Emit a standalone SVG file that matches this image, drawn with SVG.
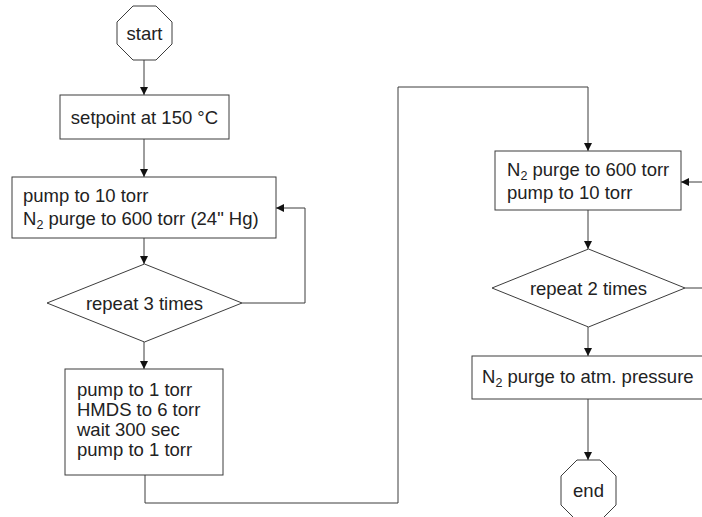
<svg xmlns="http://www.w3.org/2000/svg" width="702" height="517" viewBox="0 0 702 517">
<style>
.n{fill:#fff;stroke:#3c3c3c;stroke-width:1}
.c{fill:none;stroke:#3c3c3c;stroke-width:1}
text{font-family:"Liberation Sans",Arial,sans-serif;font-size:18.5px;fill:#222}
.m{text-anchor:middle}
.s{font-size:12.5px}
</style>
<defs>
<marker id="a" viewBox="0 0 10 10" refX="10" refY="5" markerWidth="8" markerHeight="8" markerUnits="userSpaceOnUse" orient="auto">
<path d="M0,0L10,5L0,10z" fill="#111"/>
</marker>
</defs>
<g id="connectors">
<path class="c" d="M144,60V95" marker-end="url(#a)"/>
<path class="c" d="M144,139V177" marker-end="url(#a)"/>
<path class="c" d="M144,238V264" marker-end="url(#a)"/>
<path class="c" d="M242,303H305V208H276" marker-end="url(#a)"/>
<path class="c" d="M144,342V369" marker-end="url(#a)"/>
<path class="c" d="M145,475V503H398V87H588V151" marker-end="url(#a)"/>
<path class="c" d="M702,182H681" marker-end="url(#a)"/>
<path class="c" d="M588,210V249" marker-end="url(#a)"/>
<path class="c" d="M685,288H702"/>
<path class="c" d="M588,327V356" marker-end="url(#a)"/>
<path class="c" d="M588,399V460" marker-end="url(#a)"/>
</g>
<g id="start">
<polygon class="n" points="133,6 156,6 172,22 172,44 156,60 133,60 117,44 117,22"/>
<text class="m" x="144.5" y="40">start</text>
</g>
<g id="setpoint">
<rect class="n" x="60" y="95" width="169" height="44"/>
<text class="m" x="144.5" y="124">setpoint at 150 °C</text>
</g>
<g id="purge1">
<rect class="n" x="12" y="177" width="264" height="61"/>
<text x="23" y="202">pump to 10 torr</text>
<text x="23" y="225">N<tspan class="s" dy="3.5">2</tspan><tspan dy="-3.5"> purge to 600 torr (24" Hg)</tspan></text>
</g>
<g id="repeat3">
<polygon class="n" points="144.5,264 242,303 144.5,342 47,303"/>
<text class="m" x="144.5" y="310">repeat 3 times</text>
</g>
<g id="hmds">
<rect class="n" x="65" y="369" width="158" height="106"/>
<text x="77" y="396">pump to 1 torr</text>
<text x="77" y="416">HMDS to 6 torr</text>
<text x="77" y="436">wait 300 sec</text>
<text x="77" y="456">pump to 1 torr</text>
</g>
<g id="purge2">
<rect class="n" x="495" y="151" width="186" height="59"/>
<text x="507" y="176">N<tspan class="s" dy="3.5">2</tspan><tspan dy="-3.5"> purge to 600 torr</tspan></text>
<text x="507" y="199">pump to 10 torr</text>
</g>
<g id="repeat2">
<polygon class="n" points="588.5,249 685,288 588.5,327 492,288"/>
<text class="m" x="588.5" y="295">repeat 2 times</text>
</g>
<g id="atm">
<rect class="n" x="472" y="356" width="240" height="43"/>
<text x="482" y="383">N<tspan class="s" dy="3.5">2</tspan><tspan dy="-3.5"> purge to atm. pressure</tspan></text>
</g>
<g id="end">
<polygon class="n" points="577,460 600,460 616,476 616,505 600,521 577,521 561,505 561,476"/>
<text class="m" x="588.5" y="497">end</text>
</g>
</svg>
